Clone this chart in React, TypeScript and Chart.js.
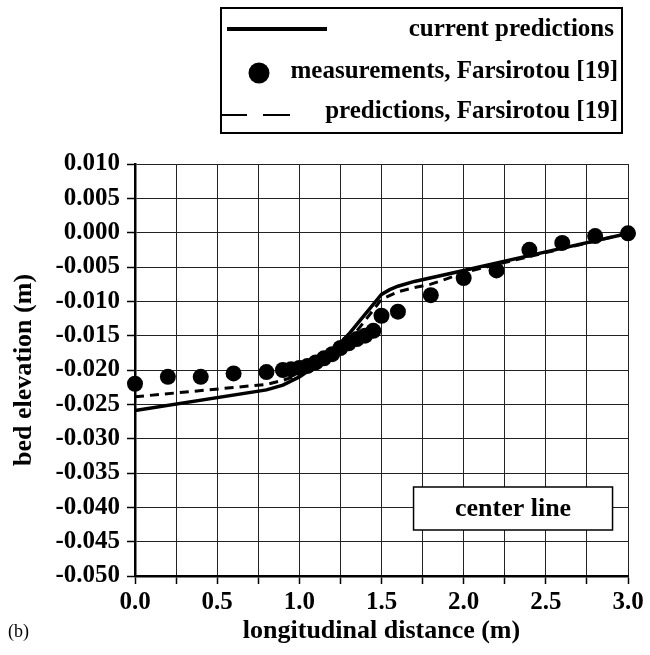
import { useEffect, useRef } from "react";
import { Chart, registerables } from "chart.js";

Chart.register(...registerables);

// Bed profile along the channel centre line
const measuredX = [0, 0.2, 0.4, 0.6, 0.8, 0.9, 0.95, 1.0, 1.05, 1.1, 1.15, 1.2, 1.25, 1.3, 1.35, 1.4, 1.45, 1.5, 1.6, 1.8, 2.0, 2.2, 2.4, 2.6, 2.8, 3.0];
const measuredY = [-0.022, -0.021, -0.021, -0.0205, -0.0203, -0.02, -0.0199, -0.0197, -0.0194, -0.0189, -0.0183, -0.0177, -0.0168, -0.0161, -0.0155, -0.015, -0.0143, -0.0121, -0.0115, -0.0091, -0.0066, -0.0055, -0.0025, -0.0015, -0.0005, -0.0001];

const currentX = [0, 0.8, 0.9, 1.0, 1.1, 1.2, 1.3, 1.4, 1.5, 1.55, 1.6, 1.7, 2.0, 2.5, 3.0];
const currentY = [-0.0259, -0.0229, -0.0222, -0.021, -0.0194, -0.0174, -0.0148, -0.0119, -0.009, -0.0083, -0.0078, -0.0071, -0.0055, -0.0028, -0.0001];

const farsirotouX = [0, 0.8, 0.9, 1.0, 1.1, 1.2, 1.3, 1.4, 1.5, 1.6, 1.7, 1.8, 1.9, 2.0, 2.5, 3.0];
const farsirotouY = [-0.0239, -0.0221, -0.0215, -0.0207, -0.0196, -0.018, -0.0158, -0.0128, -0.0097, -0.0086, -0.008, -0.0075, -0.0067, -0.0058, -0.0029, -0.0001];

const seriesLabels = ["current predictions", "measurements, Farsirotou [19]", "predictions, Farsirotou [19]"];
const xTitle = "longitudinal distance (m)";
const yTitle = "bed elevation (m)";
const sectionLabel = "center line";
const panelLabel = "(b)";

const SERIF = "'Liberation Serif', 'Times New Roman', serif";

const pairs = (xs: number[], ys: number[]) => xs.map((x, i) => ({ x, y: ys[i] }));

// Boxed legend, section tag and panel letter drawn on top of the chart
const overlayPlugin = {
  id: "overlay",
  afterDraw(chart: any) {
    const ctx: CanvasRenderingContext2D = chart.ctx;
    const area = chart.chartArea;
    ctx.save();

    // legend frame
    ctx.fillStyle = "#fff";
    ctx.fillRect(221, 8, 401, 125);
    ctx.strokeStyle = "#000";
    ctx.lineWidth = 2;
    ctx.strokeRect(221, 8, 401, 125);

    ctx.font = `bold 25px ${SERIF}`;
    ctx.fillStyle = "#000";
    ctx.textAlign = "right";
    ctx.textBaseline = "middle";
    const textRight = 614;
    const rows = [30, 72, 112];

    // solid sample
    ctx.setLineDash([]);
    ctx.lineWidth = 4;
    ctx.beginPath();
    ctx.moveTo(227, rows[0] - 1);
    ctx.lineTo(327, rows[0] - 1);
    ctx.stroke();
    ctx.fillText(seriesLabels[0], textRight, rows[0]);

    // marker sample
    ctx.beginPath();
    ctx.arc(259, rows[1] + 1, 10.5, 0, Math.PI * 2);
    ctx.fill();
    ctx.fillText(seriesLabels[1], textRight + 4, rows[1]);

    // dashed sample
    ctx.lineWidth = 2;
    ctx.setLineDash([27, 16]);
    ctx.beginPath();
    ctx.moveTo(220, rows[2] + 3);
    ctx.lineTo(293, rows[2] + 3);
    ctx.stroke();
    ctx.setLineDash([]);
    ctx.fillText(seriesLabels[2], textRight + 4, rows[2]);

    // section tag inside the plot
    const bx = area.left + (area.right - area.left) * 0.565;
    ctx.fillStyle = "#fff";
    ctx.fillRect(bx, 487, 199, 43);
    ctx.lineWidth = 1.5;
    ctx.strokeStyle = "#000";
    ctx.strokeRect(bx, 487, 199, 43);
    ctx.fillStyle = "#000";
    ctx.font = `bold 26px ${SERIF}`;
    ctx.textAlign = "center";
    ctx.fillText(sectionLabel, bx + 99.5, 509);

    // panel letter
    ctx.font = `18px ${SERIF}`;
    ctx.textAlign = "left";
    ctx.fillText(panelLabel, 8, 632);

    ctx.restore();
  },
};

export default function App() {
  const canvasRef = useRef<HTMLCanvasElement | null>(null);

  useEffect(() => {
    const canvas = canvasRef.current;
    if (!canvas) return;
    const tickFont = { family: SERIF, size: 25, weight: "bold" as const };
    const titleFont = { family: SERIF, size: 26, weight: "bold" as const };
    const chart = new Chart(canvas, {
      type: "line",
      data: {
        datasets: [
          {
            label: seriesLabels[1],
            data: pairs(measuredX, measuredY),
            showLine: false,
            pointRadius: 8,
            pointHoverRadius: 8,
            pointBackgroundColor: "#000",
            pointBorderColor: "#000",
            pointBorderWidth: 0,
            clip: false as any,
          },
          {
            label: seriesLabels[0],
            data: pairs(currentX, currentY),
            borderColor: "#000",
            borderWidth: 3.5,
            pointRadius: 0,
            tension: 0,
            fill: false,
          },
          {
            label: seriesLabels[2],
            data: pairs(farsirotouX, farsirotouY),
            borderColor: "#000",
            borderWidth: 3,
            borderDash: [9, 6],
            pointRadius: 0,
            tension: 0,
            fill: false,
          },
        ],
      },
      options: {
        responsive: false,
        animation: false,
        events: [],
        layout: { padding: { top: 164, right: 22, left: 0, bottom: 0 } },
        plugins: {
          legend: { display: false },
          tooltip: { enabled: false },
        },
        scales: {
          x: {
            type: "linear",
            min: 0,
            max: 3,
            afterFit: (s: any) => {
              s.height = 79;
            },
            ticks: {
              stepSize: 0.25,
              autoSkip: false,
              maxRotation: 0,
              padding: 4,
              color: "#000",
              font: tickFont,
              callback: (v: any) => (Math.abs((v as number) / 0.5 - Math.round((v as number) / 0.5)) < 1e-6 ? (v as number).toFixed(1) : ""),
            },
            grid: { color: "#222", lineWidth: 1, tickLength: 8, tickColor: "#000", tickWidth: 1.5 },
            border: { display: true, color: "#000", width: 2.5 },
            title: { display: true, text: xTitle, color: "#000", font: titleFont, padding: { top: 0, bottom: 8 } },
          },
          y: {
            type: "linear",
            min: -0.05,
            max: 0.01,
            afterFit: (s: any) => {
              s.width = 135;
            },
            ticks: {
              stepSize: 0.005,
              autoSkip: false,
              padding: 7,
              color: "#000",
              font: tickFont,
              callback: (v: any) => {
                const n = Math.abs(v as number) < 1e-9 ? 0 : (v as number);
                return n.toFixed(3);
              },
            },
            grid: { color: "#222", lineWidth: 1, tickLength: 8, tickColor: "#000", tickWidth: 1.5 },
            border: { display: true, color: "#000", width: 2.5 },
            title: { display: true, text: yTitle, color: "#000", font: titleFont, padding: { top: 9, bottom: 0 } },
          },
        },
      },
      plugins: [overlayPlugin],
    });
    return () => chart.destroy();
  }, []);

  return (
    <div style={{ position: "fixed", left: 0, top: 0, width: 650, height: 655, background: "#fff" }}>
      <canvas ref={canvasRef} width={650} height={655} />
    </div>
  );
}
